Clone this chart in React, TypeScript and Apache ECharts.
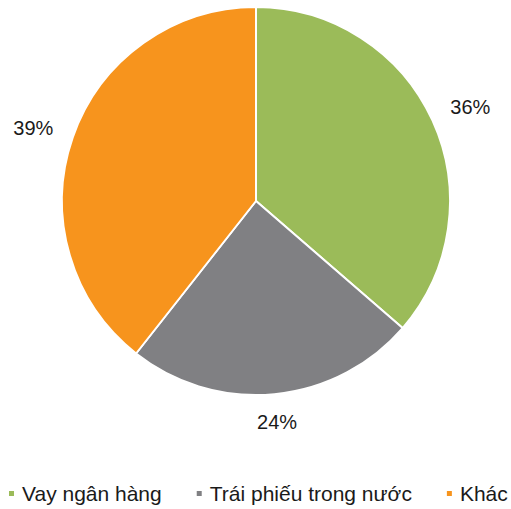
import React, { useEffect, useRef } from "react";
import * as echarts from "echarts";

const categories = ["Vay ngân hàng", "Trái phiếu trong nước", "Khác"];
const values = [36, 24, 39];
const colors = ["#9BBB59", "#808083", "#F7941D"];

const CX = 256;
const CY = 201;
const R = 194;
const FONT = "'Liberation Sans', Arial, sans-serif";

export default function App() {
  const ref = useRef<HTMLDivElement>(null);
  useEffect(() => {
    if (!ref.current) return;
    const chart = echarts.init(ref.current, undefined, { renderer: "svg" });
    const total = values.reduce((a, b) => a + b, 0);
    const mids: number[] = [];
    let acc = 0;
    values.forEach((v) => {
      mids.push(((acc + v / 2) / total) * Math.PI * 2);
      acc += v;
    });
    chart.setOption({
      animation: false,
      color: colors,
      legend: {
        top: 483,
        left: 7,
        padding: 0,
        width: 511,
        icon: "rect",
        itemWidth: 7,
        itemHeight: 7,
        itemGap: 33,
        textStyle: { fontFamily: FONT, fontSize: 21, color: "#1a1a1a", padding: [0, 0, 0, 2] },
        data: categories,
      },
      series: [
        {
          type: "pie",
          center: [CX, CY],
          radius: [0, R],
          startAngle: 90,
          clockwise: true,
          itemStyle: { borderColor: "#ffffff", borderWidth: 2 },
          label: {
            show: true,
            position: "outside",
            alignTo: "none",
            overflow: "none",
            formatter: "{c}%",
            fontFamily: FONT,
            fontSize: 20,
            color: "#1a1a1a",
          },
          labelLine: { show: false },
          labelLayout: (params: any) => {
            const a = mids[params.dataIndex];
            const s = Math.sin(a);
            const c = Math.cos(a);
            const w = 48;
            const h = 18;
            const d = R + 16 + (w / 2) * Math.abs(s) + (h / 2) * Math.abs(c);
            return {
              x: CX + d * s,
              y: CY - d * c + 4 * Math.abs(s),
              align: "center",
              verticalAlign: "middle",
            };
          },
          data: categories.map((name, i) => ({ name, value: values[i] })),
        },
      ],
    });
    return () => chart.dispose();
  }, []);
  return (
    <div
      ref={ref}
      style={{ position: "fixed", left: 0, top: 0, width: 511, height: 509, background: "#fff" }}
    />
  );
}
